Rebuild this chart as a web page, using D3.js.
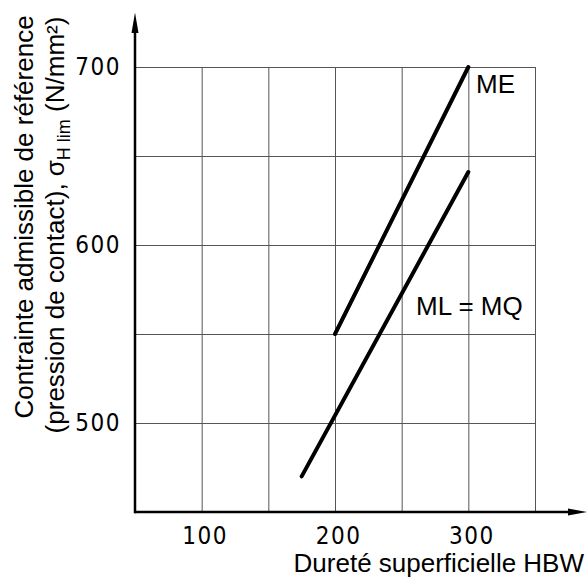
<!DOCTYPE html>
<html><head><meta charset="utf-8">
<script src="https://cdn.jsdelivr.net/npm/d3@7"></script>
<style>
body{margin:0;background:#fff;}
svg{display:block;}
</style></head>
<body>
<script>
const xDomain = [50, 350];
const yDomain = [450, 700];
const xGridTicks = [100, 150, 200, 250, 300, 350];
const yGridTicks = [500, 550, 600, 650, 700];
const xLabelTicks = [100, 200, 300];
const yLabelTicks = [500, 600, 700];
const seriesNames = ["ME", "ML = MQ"];
const meHardness = [200, 300];
const meStress = [550, 700];
const mlHardness = [175, 300];
const mlStress = [470, 641];
const xTitle = "Dureté superficielle HBW";
const yTitle1 = "Contrainte admissible de référence";

const W = 587, H = 583;
const svg = d3.select("body").append("svg").attr("width", W).attr("height", H);
const x = d3.scaleLinear().domain(xDomain).range([135, 535]);
const y = d3.scaleLinear().domain(yDomain).range([512, 67]);
const labelFont = "'Liberation Sans', Arial, Helvetica, sans-serif";
const tickFont = "'Liberation Sans Narrow', 'DejaVu Sans Condensed', sans-serif";

// grid
const gx = svg.append("g").attr("transform", `translate(0,${y(yDomain[0])})`)
  .call(d3.axisBottom(x).tickValues(xGridTicks).tickSize(-(y(yDomain[0]) - y(yDomain[1]))).tickFormat(""));
gx.select(".domain").remove();
gx.selectAll("line").attr("stroke", "#555").attr("stroke-width", 1);
const gy = svg.append("g").attr("transform", `translate(${x(xDomain[0])},0)`)
  .call(d3.axisLeft(y).tickValues(yGridTicks).tickSize(-(x(xDomain[1]) - x(xDomain[0]))).tickFormat(""));
gy.select(".domain").remove();
gy.selectAll("line").attr("stroke", "#555").attr("stroke-width", 1);

// tick labels
const lx = svg.append("g").attr("transform", `translate(3,${y(yDomain[0])})`)
  .call(d3.axisBottom(x).tickValues(xLabelTicks).tickSize(0).tickPadding(15).tickFormat(d3.format("d")));
lx.select(".domain").remove();
lx.selectAll("text").attr("font-family", tickFont).attr("font-size", 24).attr("letter-spacing", "1.5px").attr("fill", "#000");
const ly = svg.append("g").attr("transform", `translate(${x(xDomain[0])},0)`)
  .call(d3.axisLeft(y).tickValues(yLabelTicks).tickSize(0).tickPadding(14).tickFormat(d3.format("d")));
ly.select(".domain").remove();
ly.selectAll("text").attr("font-family", tickFont).attr("font-size", 24).attr("letter-spacing", "1.5px").attr("fill", "#000");

// axes with arrows
const x0 = x(xDomain[0]), y0 = y(yDomain[0]);
svg.append("line").attr("x1", x0).attr("y1", y0).attr("x2", 572).attr("y2", y0)
  .attr("stroke", "#000").attr("stroke-width", 2.5);
svg.append("line").attr("x1", x0).attr("y1", y0 + 1.25).attr("x2", x0).attr("y2", 28)
  .attr("stroke", "#000").attr("stroke-width", 2.5);
svg.append("path").attr("d", `M587,${y0} L568,${y0-3.5} L568,${y0+3.5} Z`).attr("fill", "#000");
svg.append("path").attr("d", `M${x0},12.5 L${x0-3.5},33 L${x0+3.5},33 Z`).attr("fill", "#000");

// data lines
const line = d3.line().x(d => x(d[0])).y(d => y(d[1]));
const series = [
  {name: seriesNames[0], pts: d3.zip(meHardness, meStress)},
  {name: seriesNames[1], pts: d3.zip(mlHardness, mlStress)}
];
svg.selectAll("path.series").data(series).join("path").attr("class", "series")
  .attr("d", d => line(d.pts)).attr("fill", "none").attr("stroke", "#000")
  .attr("stroke-width", 4).attr("stroke-linecap", "round");

// series labels
svg.append("text").attr("x", 476).attr("y", 93).attr("font-family", labelFont).attr("font-size", 26).text(seriesNames[0]);
svg.append("text").attr("x", 416).attr("y", 315).attr("font-family", labelFont).attr("font-size", 26).text(seriesNames[1]);

// axis titles
svg.append("text").attr("x", 584).attr("y", 572).attr("text-anchor", "end")
  .attr("font-family", labelFont).attr("font-size", 26).text(xTitle);
svg.append("text").attr("transform", "translate(33,217) rotate(-90)").attr("text-anchor", "middle")
  .attr("font-family", labelFont).attr("font-size", 26).text(yTitle1);
const t2 = svg.append("text").attr("transform", "translate(64,225) rotate(-90)").attr("text-anchor", "middle")
  .attr("font-family", labelFont).attr("font-size", 26);
t2.append("tspan").text("(pression de contact), σ");
t2.append("tspan").attr("font-size", 18).attr("dy", 6).text("H lim");
t2.append("tspan").attr("dy", -6).text(" (N/mm²)");
</script>
</body></html>
